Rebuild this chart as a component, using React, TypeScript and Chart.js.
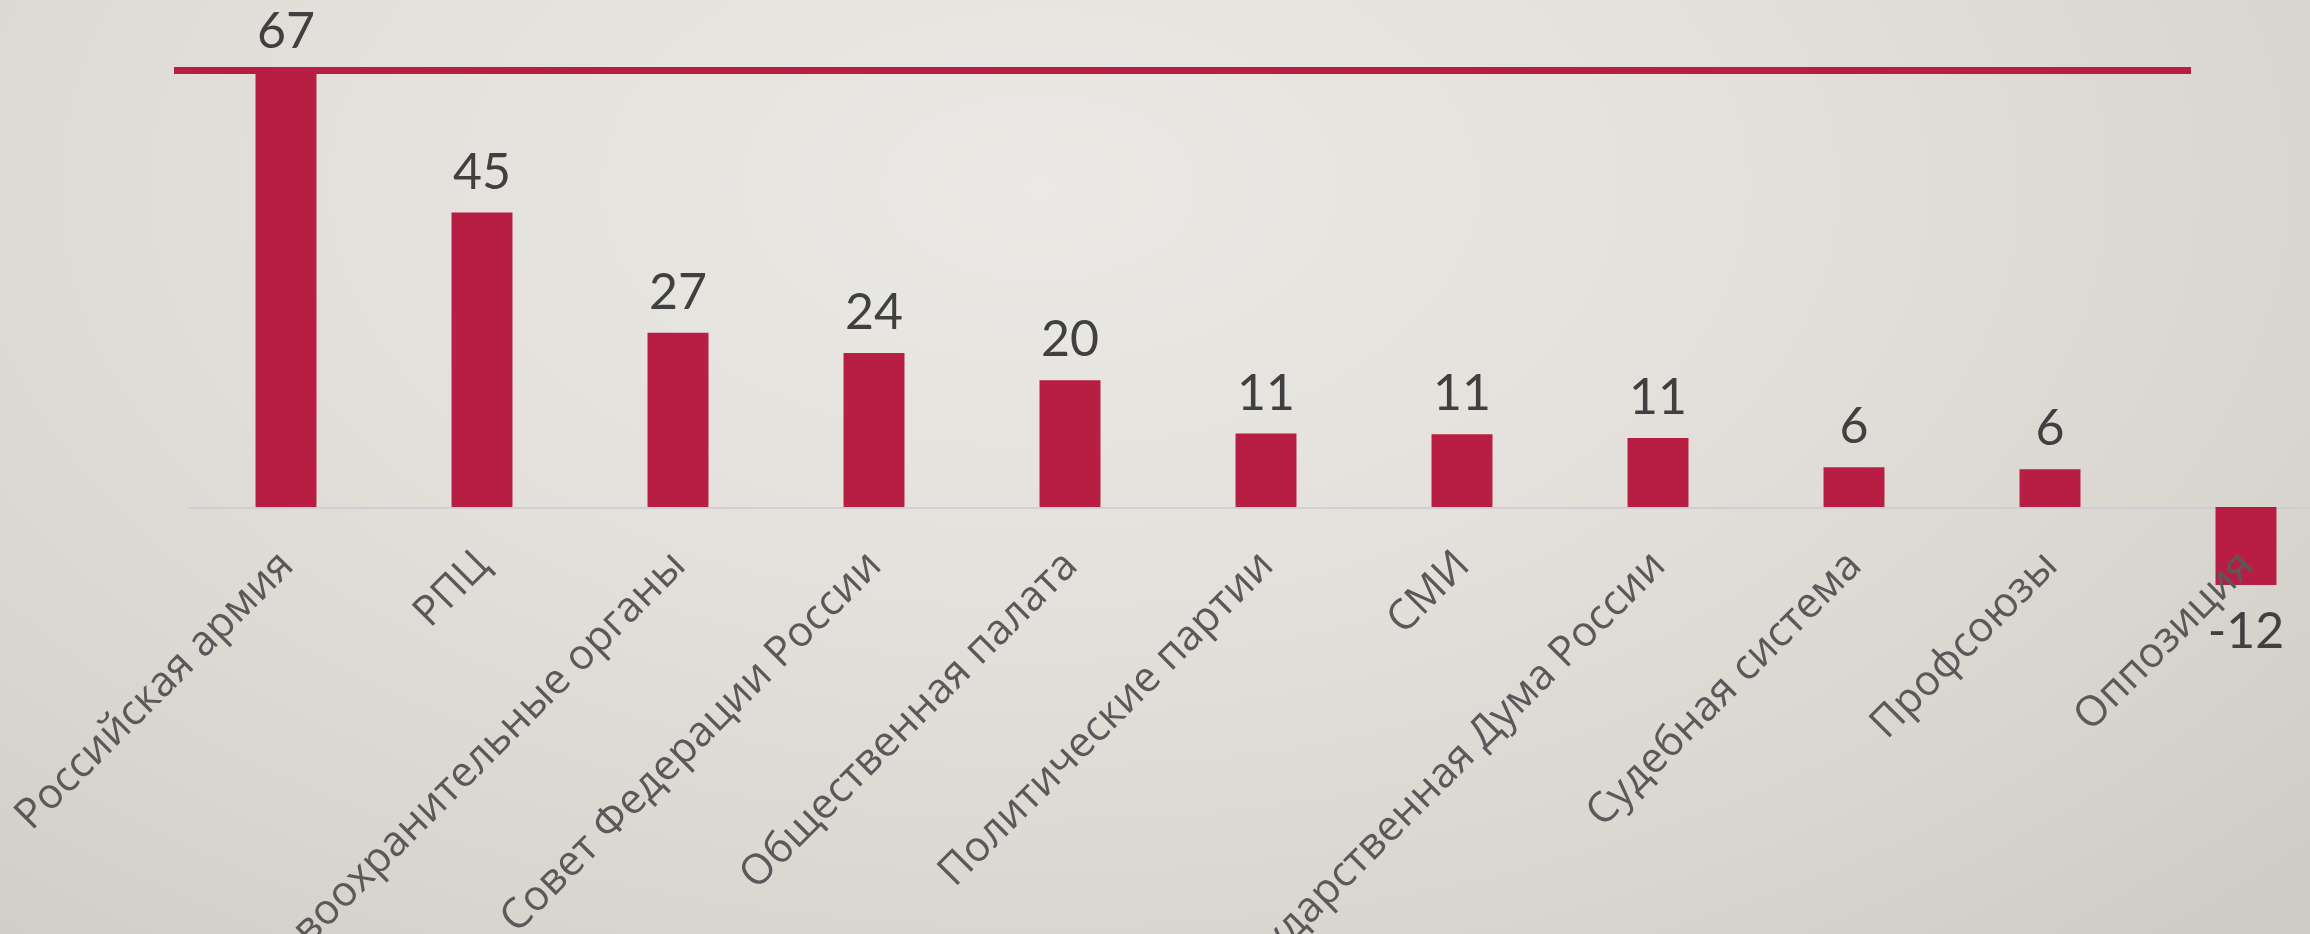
import React, { useEffect, useRef } from "react";
import { Chart, registerables } from "chart.js";

Chart.register(...registerables);

const categories = [
  "Российская армия",
  "РПЦ",
  "Правоохранительные органы",
  "Совет Федерации России",
  "Общественная палата",
  "Политические партии",
  "СМИ",
  "Государственная Дума России",
  "Судебная система",
  "Профсоюзы",
  "Оппозиция",
];
const values = [67, 45.3, 26.8, 23.7, 19.5, 11.3, 11.2, 10.6, 6.1, 5.8, -12];
const valueLabels = ["67", "45", "27", "24", "20", "11", "11", "11", "6", "6", "-12"];

const BAR_COLOR = "#b81e43";
const CANVAS_W = 2360;
const CANVAS_H = 934;

const overlay = {
  id: "overlay",
  beforeDatasetsDraw(chart: any) {
    const { ctx, chartArea, scales } = chart;
    const y0 = scales.y.getPixelForValue(0);
    ctx.save();
    ctx.strokeStyle = "rgba(205,205,210,0.9)";
    ctx.lineWidth = 2;
    ctx.beginPath();
    ctx.moveTo(chartArea.left, y0 + 1);
    ctx.lineTo(chartArea.right, y0 + 1);
    ctx.stroke();
    ctx.restore();
  },
  afterDatasetsDraw(chart: any) {
    const { ctx, scales } = chart;
    const meta = chart.getDatasetMeta(0);
    const y0 = scales.y.getPixelForValue(0);
    ctx.save();
    // category labels
    ctx.font = '42px "Open Sans"';
    ctx.fillStyle = "#595959";
    ctx.textAlign = "right";
    ctx.textBaseline = "middle";
    categories.forEach((c, i) => {
      const x = scales.x.getPixelForValue(i);
      ctx.save();
      ctx.translate(x + 1, y0 + 52);
      ctx.rotate(-Math.PI / 4);
      ctx.fillText(c, 0, 0);
      ctx.restore();
    });
    // value labels
    ctx.font = '50px Lato';
    ctx.fillStyle = "#404040";
    ctx.textAlign = "center";
    ctx.textBaseline = "alphabetic";
    meta.data.forEach((bar: any, i: number) => {
      const v = values[i];
      if (v >= 0) {
        ctx.fillText(valueLabels[i], bar.x, bar.y - 24);
      } else {
        ctx.fillText(valueLabels[i], bar.x, bar.y + 63);
      }
    });
    ctx.restore();
  },
};

export default function App() {
  const ref = useRef<HTMLCanvasElement | null>(null);
  useEffect(() => {
    if (!ref.current) return;
    const chart = new Chart(ref.current, {
      type: "bar",
      data: {
        labels: categories,
        datasets: [
          {
            data: values,
            backgroundColor: BAR_COLOR,
            borderWidth: 0,
            barPercentage: 0.311,
            categoryPercentage: 1,
          },
        ],
      },
      options: {
        responsive: false,
        animation: false,
        devicePixelRatio: 1,
        layout: {
          padding: { left: 188, right: CANVAS_W - 2344, top: 52, bottom: CANVAS_H - 604.5 },
        },
        plugins: {
          legend: { display: false },
          tooltip: { enabled: false },
        },
        scales: {
          x: { display: false, grid: { display: false } },
          y: { display: false, min: -15, max: 70, grid: { display: false } },
        },
      },
      plugins: [overlay],
    });
    return () => chart.destroy();
  }, []);

  return (
    <div
      style={{
        position: "fixed",
        left: 0,
        top: 0,
        width: 2310,
        height: 934,
        overflow: "hidden",
        background:
          "radial-gradient(ellipse 75% 110% at 45% 20%, #ebe9e5 0%, #e4e1dc 40%, #d9d6d0 75%, #cfccc6 100%)",
      }}
    >
      <canvas
        ref={ref}
        width={CANVAS_W}
        height={CANVAS_H}
        style={{ position: "absolute", left: 0, top: 0, width: CANVAS_W, height: CANVAS_H }}
      />
      <div
        style={{
          position: "absolute",
          left: 174,
          top: 67,
          width: 2017,
          height: 7,
          background: BAR_COLOR,
        }}
      />
    </div>
  );
}
